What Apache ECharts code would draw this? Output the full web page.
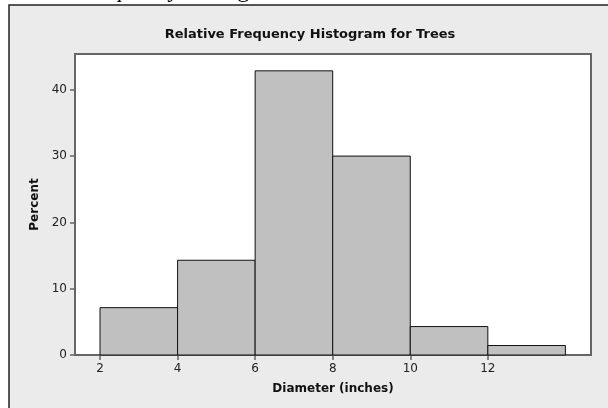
<!DOCTYPE html>
<html>
<head>
<meta charset="utf-8">
<script src="https://cdn.jsdelivr.net/npm/echarts@6/dist/echarts.min.js"></script>
<style>html,body{margin:0;padding:0;background:#fff;}#c{width:608px;height:408px;}</style>
</head>
<body>
<div id="c"></div>
<script>
var binEdges = [2, 4, 6, 8, 10, 12, 14];
var percents = [7.14, 14.29, 42.86, 30.0, 4.29, 1.43];
var xTicks = [2, 4, 6, 8, 10, 12];
var yTicks = [0, 10, 20, 30, 40];
var titleText = 'Relative Frequency Histogram for Trees';
var xName = 'Diameter (inches)';
var yName = 'Percent';

var data = percents.map(function (v, i) { return [binEdges[i], binEdges[i + 1], v]; });

var chart = echarts.init(document.getElementById('c'), null, {renderer: 'canvas'});
chart.setOption({
  backgroundColor: '#ffffff',
  animation: false,
  graphic: [
    {type: 'text', z: -20, x: -8, y: -9,
     style: {text: 'Relative Frequency Histogram', font: '24px "Liberation Serif"', fill: '#000',
             align: 'left', verticalAlign: 'middle'}},
    {type: 'rect', z: -10, shape: {x: 9, y: 5, width: 700, height: 500},
     style: {fill: '#ebebeb', stroke: '#222', lineWidth: 1.5}}
  ],
  title: {
    text: titleText, left: 305, top: 23, textAlign: 'center',
    textStyle: {fontFamily: 'DejaVu Sans', fontWeight: 'bold', fontSize: 13, color: '#111'}
  },
  grid: {left: 75, top: 54, right: 17, bottom: 53, show: true, backgroundColor: '#fff',
         borderColor: '#666', borderWidth: 2, containLabel: false},
  xAxis: {
    type: 'value', min: 1.355, max: 14.66,
    name: xName, nameLocation: 'middle', nameGap: 28,
    nameTextStyle: {fontFamily: 'DejaVu Sans', fontWeight: 'bold', fontSize: 12, color: '#111'},
    axisLine: {show: true, lineStyle: {color: '#666', width: 2}},
    axisTick: {show: true, length: 5, inside: false, customValues: xTicks, lineStyle: {color: '#666', width: 1.5}},
    axisLabel: {customValues: xTicks, fontFamily: 'DejaVu Sans', fontSize: 12, color: '#222', margin: 8},
    splitLine: {show: false}
  },
  yAxis: {
    type: 'value', min: 0, max: 45.4,
    name: yName, nameLocation: 'middle', nameGap: 34,
    nameTextStyle: {fontFamily: 'DejaVu Sans', fontWeight: 'bold', fontSize: 12, color: '#111'},
    axisLine: {show: true, lineStyle: {color: '#666', width: 2}},
    axisTick: {show: true, length: 5, inside: false, customValues: yTicks, lineStyle: {color: '#666', width: 1.5}},
    axisLabel: {customValues: yTicks, fontFamily: 'DejaVu Sans', fontSize: 12, color: '#222', margin: 8},
    splitLine: {show: false}
  },
  series: [{
    type: 'custom',
    data: data,
    encode: {x: [0, 1], y: 2},
    renderItem: function (params, api) {
      var p0 = api.coord([api.value(0), 0]);
      var p1 = api.coord([api.value(1), api.value(2)]);
      return {
        type: 'rect',
        shape: {x: p0[0], y: p1[1], width: p1[0] - p0[0], height: p0[1] - p1[1]},
        style: {fill: '#c0c0c0', stroke: '#111', lineWidth: 1}
      };
    }
  }]
});
</script>
</body>
</html>
